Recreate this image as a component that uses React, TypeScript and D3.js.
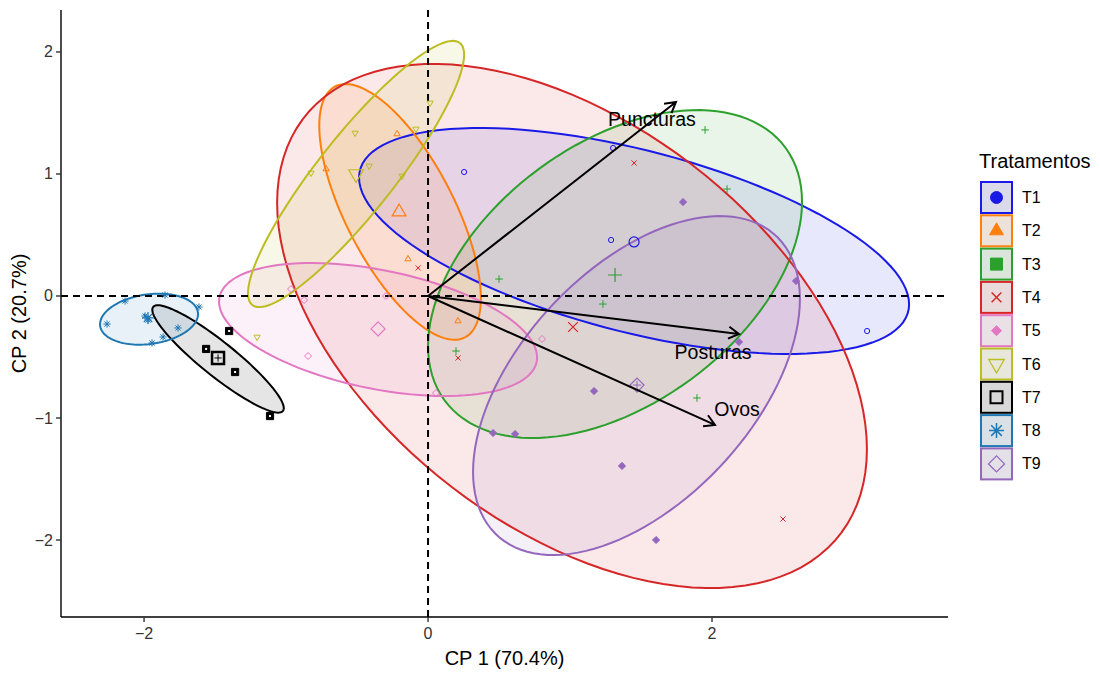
import React from 'react';
import * as d3 from 'd3';

// ---------- data ----------
const groups = ['T1', 'T2', 'T3', 'T4', 'T5', 'T6', 'T7', 'T8', 'T9'];
const groupColors = ['#1A1AE6', '#FF7F0E', '#2CA02C', '#D62728', '#E377C2', '#BCBD22', '#000000', '#1F77B4', '#9467BD'];

const pointsT1 = [[0.254, 1.016], [1.303, 1.213], [1.289, 0.459], [3.092, -0.287]];
const pointsT2 = [[-0.218, 1.328], [-0.718, 1.041], [-0.141, 0.303], [0.211, -0.205]];
const pointsT3 = [[1.951, 1.361], [2.106, 0.877], [0.5, 0.139], [1.232, -0.066], [0.197, -0.451], [1.894, -0.836]];
const pointsT4 = [[-0.07, 0.23], [1.451, 1.09], [0.211, -0.508], [2.5, -1.828]];
const pointsT5 = [[-0.965, 0.057], [-0.873, -0.033], [-0.845, -0.492], [-0.296, 0.0], [0.803, -0.352], [0.056, -0.795]];
const pointsT6 = [[0.014, 1.582], [-0.514, 1.336], [-0.085, 1.369], [-0.824, 1.008], [-0.415, 1.066], [-0.183, 0.984], [-1.204, -0.336]];
const pointsT7 = [[-1.401, -0.287], [-1.563, -0.434], [-1.359, -0.623], [-1.113, -0.984]];
const pointsT8 = [[-2.134, -0.041], [-1.852, 0.008], [-1.613, -0.09], [-2.261, -0.23], [-1.993, -0.164], [-1.972, -0.197], [-1.761, -0.262], [-1.944, -0.385], [-1.866, -0.336]];
const pointsT9 = [[1.796, 0.77], [2.592, 0.123], [2.19, -0.377], [1.169, -0.779], [0.458, -1.123], [0.613, -1.131], [1.366, -1.393], [1.606, -2.0]];
const groupPoints = [pointsT1, pointsT2, pointsT3, pointsT4, pointsT5, pointsT6, pointsT7, pointsT8, pointsT9];

// group centres (mean points)
const meanX = [1.451, -0.204, 1.317, 1.021, -0.352, -0.507, -1.479, -1.972, 1.472];
const meanY = [0.443, 0.689, 0.172, -0.254, -0.27, 1.0, -0.508, -0.18, -0.73];

// concentration ellipses: centre, half-extent in x and y, correlation
const ellCx = [1.451, -0.197, 1.317, 1.014, -0.352, -0.507, -1.479, -1.965, 1.468];
const ellCy = [0.451, 0.689, 0.18, -0.246, -0.275, 1.0, -0.516, -0.19, -0.734];
const ellHx = [1.937, 0.569, 1.317, 2.077, 1.12, 0.761, 0.463, 0.345, 1.151];
const ellHy = [0.926, 1.048, 1.344, 2.148, 0.545, 1.091, 0.44, 0.209, 1.389];
const ellRho = [-0.56, -0.673, 0.44, -0.47, -0.42, 0.896, -0.916, 0.2, 0.51];

// variables (loadings)
const varNames = ['Puncturas', 'Posturas', 'Ovos'];
const varX = [1.746, 2.19, 2.021];
const varY = [1.59, -0.311, -1.057];
const varLabelX = [1.577, 2.007, 2.176];
const varLabelY = [1.451, -0.459, -0.926];

const xTicks = [-2, 0, 2];
const yTicks = [-2, -1, 0, 1, 2];
const xDomain = [-2.585, 3.662];
const yDomain = [-2.631, 2.344];

// ---------- styles ----------
const pointShapes = ['circle', 'triangle', 'plus', 'cross', 'diamond', 'triangleDown', 'squareSolid', 'asterisk', 'diamondSolid'];
const legendShapes = ['circleSolid', 'triangleSolid', 'squareSolid', 'cross', 'diamondSolid', 'triangleDown', 'square', 'asterisk', 'diamond'];
const FONT = '"Liberation Sans", Arial, Helvetica, sans-serif';

function shapePath(kind: string, s: number): string {
  const k = kind.replace('Solid', '');
  if (k === 'circle') {
    return `M${-s},0A${s},${s} 0 1 0 ${s},0A${s},${s} 0 1 0 ${-s},0Z`;
  }
  if (k === 'triangle') {
    return `M0,${-s}L${0.866 * s},${0.5 * s}L${-0.866 * s},${0.5 * s}Z`;
  }
  if (k === 'triangleDown') {
    return `M0,${s}L${0.866 * s},${-0.5 * s}L${-0.866 * s},${-0.5 * s}Z`;
  }
  if (k === 'square') {
    return `M${-s},${-s}H${s}V${s}H${-s}Z`;
  }
  if (k === 'diamond') {
    return `M0,${-s}L${s},0L0,${s}L${-s},0Z`;
  }
  if (k === 'plus') {
    return `M${-s},0H${s}M0,${-s}V${s}`;
  }
  if (k === 'cross') {
    const a = s * 0.75;
    return `M${-a},${-a}L${a},${a}M${-a},${a}L${a},${-a}`;
  }
  if (k === 'asterisk') {
    const a = s * 0.707;
    return `M${-s},0H${s}M0,${-s}V${s}M${-a},${-a}L${a},${a}M${-a},${a}L${a},${-a}`;
  }
  return '';
}

function Marker({ kind, s, color, x, y, sw = 1 }: any) {
  const solid = kind.endsWith('Solid');
  const d = shapePath(kind, s);
  return (
    <path
      d={d}
      transform={`translate(${x},${y})`}
      fill={solid ? color : 'none'}
      stroke={color}
      strokeWidth={sw}
      strokeLinejoin="miter"
    />
  );
}

export default function App() {
  const W = 1100;
  const H = 673;
  const left = 61, right = 948, top = 10, bottom = 617;
  const x = d3.scaleLinear().domain(xDomain).range([left, right]);
  const y = d3.scaleLinear().domain(yDomain).range([bottom, top]);

  const line = d3.line<[number, number]>().x((d) => x(d[0])).y((d) => y(d[1])).curve(d3.curveLinearClosed);
  const ellipsePath = (i: number) => {
    const pts: [number, number][] = d3.range(0, 120).map((j) => {
      const t = (j / 120) * 2 * Math.PI;
      const r = ellRho[i];
      return [
        ellCx[i] + ellHx[i] * Math.cos(t),
        ellCy[i] + ellHy[i] * (r * Math.cos(t) + Math.sqrt(1 - r * r) * Math.sin(t)),
      ];
    });
    return line(pts) || '';
  };

  const arrow = (i: number) => {
    const x0 = x(0), y0 = y(0), x1 = x(varX[i]), y1 = y(varY[i]);
    const ang = Math.atan2(y1 - y0, x1 - x0);
    const L = 12, A = Math.PI / 6;
    const hx1 = x1 - L * Math.cos(ang - A), hy1 = y1 - L * Math.sin(ang - A);
    const hx2 = x1 - L * Math.cos(ang + A), hy2 = y1 - L * Math.sin(ang + A);
    return `M${x0},${y0}L${x1},${y1}M${hx1},${hy1}L${x1},${y1}L${hx2},${hy2}`;
  };

  const keyTop = 182, keyStep = 33.3, keyX = 981, keySize = 31;
  const legendSizes = [6, 8, 6, 6.5, 5, 9, 6, 7.5, 8];
  const legendSw = [1, 1, 1, 1.5, 1, 1.3, 2, 1.5, 1.3];
  const pointSize = [2.6, 3.6, 3.8, 3.4, 3.5, 3.6, 3.6, 3.6, 3.6];
  const meanSize = [5, 8, 7, 6.5, 7, 8.5, 6, 6, 7];

  return (
    <div style={{ position: 'absolute', left: 0, top: 0 }}>
      <svg width={W} height={H} style={{ display: 'block', background: '#fff' }} fontFamily={FONT}>
        {/* ellipses */}
        {groups.map((g, i) => (
          <path key={'ef' + g} d={ellipsePath(i)} fill={groupColors[i]} fillOpacity={0.1} stroke="none" />
        ))}
        {groups.map((g, i) => (
          <path key={'es' + g} d={ellipsePath(i)} fill="none" stroke={groupColors[i]} strokeWidth={2} />
        ))}

        {/* reference lines */}
        <line x1={left} x2={right} y1={y(0)} y2={y(0)} stroke="#000" strokeWidth={2} strokeDasharray="7,5" />
        <line x1={x(0)} x2={x(0)} y1={top} y2={bottom} stroke="#000" strokeWidth={2} strokeDasharray="7,5" />

        {/* individual points */}
        {groupPoints.map((pts, i) =>
          pts.map((p, j) => (
            <g key={`p${i}-${j}`}>
              <Marker kind={pointShapes[i]} s={pointSize[i]} color={groupColors[i]} x={x(p[0])} y={y(p[1])} sw={1} />
              {i === 6 ? <rect x={x(p[0]) - 1} y={y(p[1]) - 1} width={2} height={2} fill="#fff" /> : null}
            </g>
          ))
        )}

        {/* mean points */}
        {groups.map((g, i) => (
          <g key={'m' + g}>
            <Marker
              kind={pointShapes[i].replace('Solid', '')}
              s={meanSize[i]}
              color={groupColors[i]}
              x={x(meanX[i])}
              y={y(meanY[i])}
              sw={i === 6 ? 2.5 : 1.2}
            />
            {i === 6 || i === 8 ? (
              <path
                d={shapePath('plus', meanSize[i] * 0.6)}
                transform={`translate(${x(meanX[i])},${y(meanY[i])})`}
                stroke={groupColors[i]}
                strokeWidth={1}
                fill="none"
              />
            ) : null}
          </g>
        ))}

        {/* variable arrows */}
        {varNames.map((v, i) => (
          <path key={'a' + v} d={arrow(i)} fill="none" stroke="#000" strokeWidth={2} />
        ))}
        {varNames.map((v, i) => (
          <text
            key={'t' + v}
            x={x(varLabelX[i])}
            y={y(varLabelY[i])}
            textAnchor="middle"
            dominantBaseline="central"
            fontSize={19.5}
            fill="#000"
          >
            {v}
          </text>
        ))}

        {/* axes */}
        <line x1={left} x2={right} y1={bottom} y2={bottom} stroke="#000" strokeWidth={1.4} />
        <line x1={left} x2={left} y1={top} y2={bottom} stroke="#000" strokeWidth={1.4} />
        {xTicks.map((t) => (
          <g key={'xt' + t}>
            <line x1={x(t)} x2={x(t)} y1={bottom} y2={bottom + 5} stroke="#333" strokeWidth={1.4} />
            <text x={x(t)} y={bottom + 22} textAnchor="middle" fontSize={16} fill="#333">
              {t < 0 ? '\u2212' + Math.abs(t) : String(t)}
            </text>
          </g>
        ))}
        {yTicks.map((t) => (
          <g key={'yt' + t}>
            <line x1={left - 5} x2={left} y1={y(t)} y2={y(t)} stroke="#333" strokeWidth={1.4} />
            <text x={left - 8} y={y(t)} textAnchor="end" dominantBaseline="central" fontSize={16} fill="#333">
              {t < 0 ? '\u2212' + Math.abs(t) : String(t)}
            </text>
          </g>
        ))}
        <text x={(left + right) / 2} y={665} textAnchor="middle" fontSize={20} fill="#000">
          CP 1 (70.4%)
        </text>
        <text
          transform={`translate(26,${(top + bottom) / 2}) rotate(-90)`}
          textAnchor="middle"
          fontSize={20}
          fill="#000"
        >
          CP 2 (20.7%)
        </text>

        {/* legend */}
        <text x={979} y={168} fontSize={20} fill="#000">
          Tratamentos
        </text>
        {groups.map((g, i) => {
          const ky = keyTop + i * keyStep;
          const cx = keyX + keySize / 2, cy = ky + keySize / 2;
          return (
            <g key={'l' + g}>
              <rect x={keyX} y={ky} width={keySize} height={keySize} fill="#EBEBEB" />
              <rect
                x={keyX}
                y={ky}
                width={keySize}
                height={keySize}
                fill={groupColors[i]}
                fillOpacity={0.08}
                stroke={groupColors[i]}
                strokeWidth={2}
              />
              <Marker kind={legendShapes[i]} s={legendSizes[i]} color={groupColors[i]} x={cx} y={cy} sw={legendSw[i]} />
              <text x={1022} y={cy} dominantBaseline="central" fontSize={16} fill="#000">
                {g}
              </text>
            </g>
          );
        })}
      </svg>
    </div>
  );
}
